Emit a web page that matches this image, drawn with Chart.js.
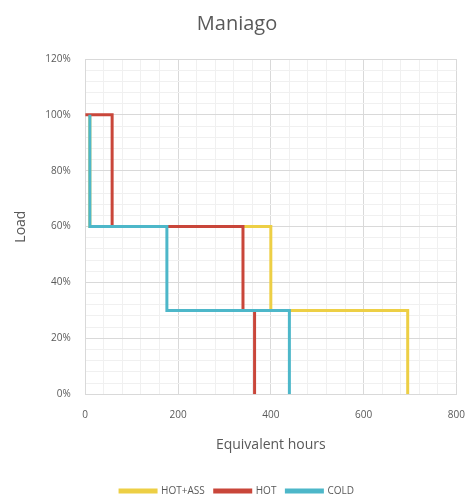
<!DOCTYPE html>
<html>
<head>
<meta charset="utf-8">
<script src="https://cdn.jsdelivr.net/npm/chart.js@4.4.1/dist/chart.umd.min.js"></script>
<style>
    html, body { margin: 0; padding: 0; background: #ffffff; }
    #wrap { width: 465px; height: 500px; }
</style>
</head>
<body>
<div id="wrap"><canvas id="chart"></canvas></div>
<script>
// ============================================
// DATA (equivalent hours vs load %)
// ============================================
const seriesNames = ["HOT+ASS", "HOT", "COLD"];

const hotAssHours = [10, 10, 400, 400, 695, 695];
const hotAssLoad  = [100, 60, 60, 30, 30, 0];

const hotHours = [0, 58, 58, 340, 340, 365, 365];
const hotLoad  = [100, 100, 60, 60, 30, 30, 0];

const coldHours = [10, 10, 176, 176, 440, 440];
const coldLoad  = [100, 60, 60, 30, 30, 0];

const xTicks = [0, 200, 400, 600, 800];
const yTicks = [0, 20, 40, 60, 80, 100, 120];

const SERIES_COLORS = ["#EDCF45", "#C9463A", "#4DB7C9"];
const TEXT_COLOR = "#595959";

// ============================================
// HELPERS
// ============================================
function toPoints(xs, ys) {
    return xs.map((x, i) => ({ x: x, y: ys[i] }));
}

// major lines a bit darker than the minor ones
function gridColor(ctx, majorValues) {
    const v = ctx.tick ? ctx.tick.value : null;
    return majorValues.includes(v) ? "#d9d9d9" : "#f0f0f0";
}

const allSeries = [
    toPoints(hotAssHours, hotAssLoad),
    toPoints(hotHours, hotLoad),
    toPoints(coldHours, coldLoad)
];

// cyan drawn on top, yellow underneath (lower order = drawn later)
const datasets = allSeries.map((pts, i) => ({
    label: seriesNames[i],
    data: pts,
    showLine: true,
    borderColor: SERIES_COLORS[i],
    backgroundColor: SERIES_COLORS[i],
    borderWidth: 3,
    pointRadius: 0,
    tension: 0,
    order: seriesNames.length - i
}));

// ============================================
// CHART
// ============================================
new Chart(document.getElementById("chart"), {
    type: "scatter",
    data: { datasets: datasets },
    options: {
        responsive: true,
        maintainAspectRatio: false,
        animation: false,
        layout: { padding: { top: 4, right: 0, left: 9, bottom: -6 } },
        plugins: {
            title: {
                display: true,
                text: "Maniago",
                color: TEXT_COLOR,
                font: { family: "Open Sans", size: 20, weight: "normal" },
                padding: { top: 8, bottom: 23 }
            },
            legend: {
                position: "bottom",
                labels: {
                    boxWidth: 36,
                    boxHeight: 2,
                    color: TEXT_COLOR,
                    font: { family: "Open Sans", size: 10 },
                    padding: 10,
                    sort: (a, b) => a.datasetIndex - b.datasetIndex
                }
            },
            tooltip: { enabled: false }
        },
        scales: {
            x: {
                type: "linear",
                min: 0,
                max: 800,
                title: {
                    display: true,
                    text: "Equivalent hours",
                    color: TEXT_COLOR,
                    font: { family: "Open Sans", size: 14 },
                    padding: { top: 15, bottom: 23 }
                },
                ticks: {
                    stepSize: 40,
                    autoSkip: false,
                    maxRotation: 0,
                    padding: 0,
                    color: TEXT_COLOR,
                    font: { family: "Open Sans", size: 10 },
                    callback: v => xTicks.includes(v) ? v : ""
                },
                grid: {
                    color: ctx => gridColor(ctx, xTicks),
                    // invisible tick marks just to push the labels down
                    drawTicks: true,
                    tickLength: 15,
                    tickColor: "rgba(0,0,0,0)"
                },
                border: { color: "#d9d9d9" }
            },
            y: {
                type: "linear",
                min: 0,
                max: 120,
                title: {
                    display: true,
                    text: "Load",
                    color: TEXT_COLOR,
                    font: { family: "Open Sans", size: 14 },
                    padding: { top: 4, bottom: 1 }
                },
                ticks: {
                    stepSize: 4,
                    autoSkip: false,
                    padding: 14.5,
                    color: TEXT_COLOR,
                    font: { family: "Open Sans", size: 10 },
                    callback: v => yTicks.includes(v) ? v + "%" : ""
                },
                grid: {
                    color: ctx => gridColor(ctx, yTicks),
                    drawTicks: false
                },
                border: { color: "#d9d9d9" }
            }
        }
    }
});
</script>
</body>
</html>
